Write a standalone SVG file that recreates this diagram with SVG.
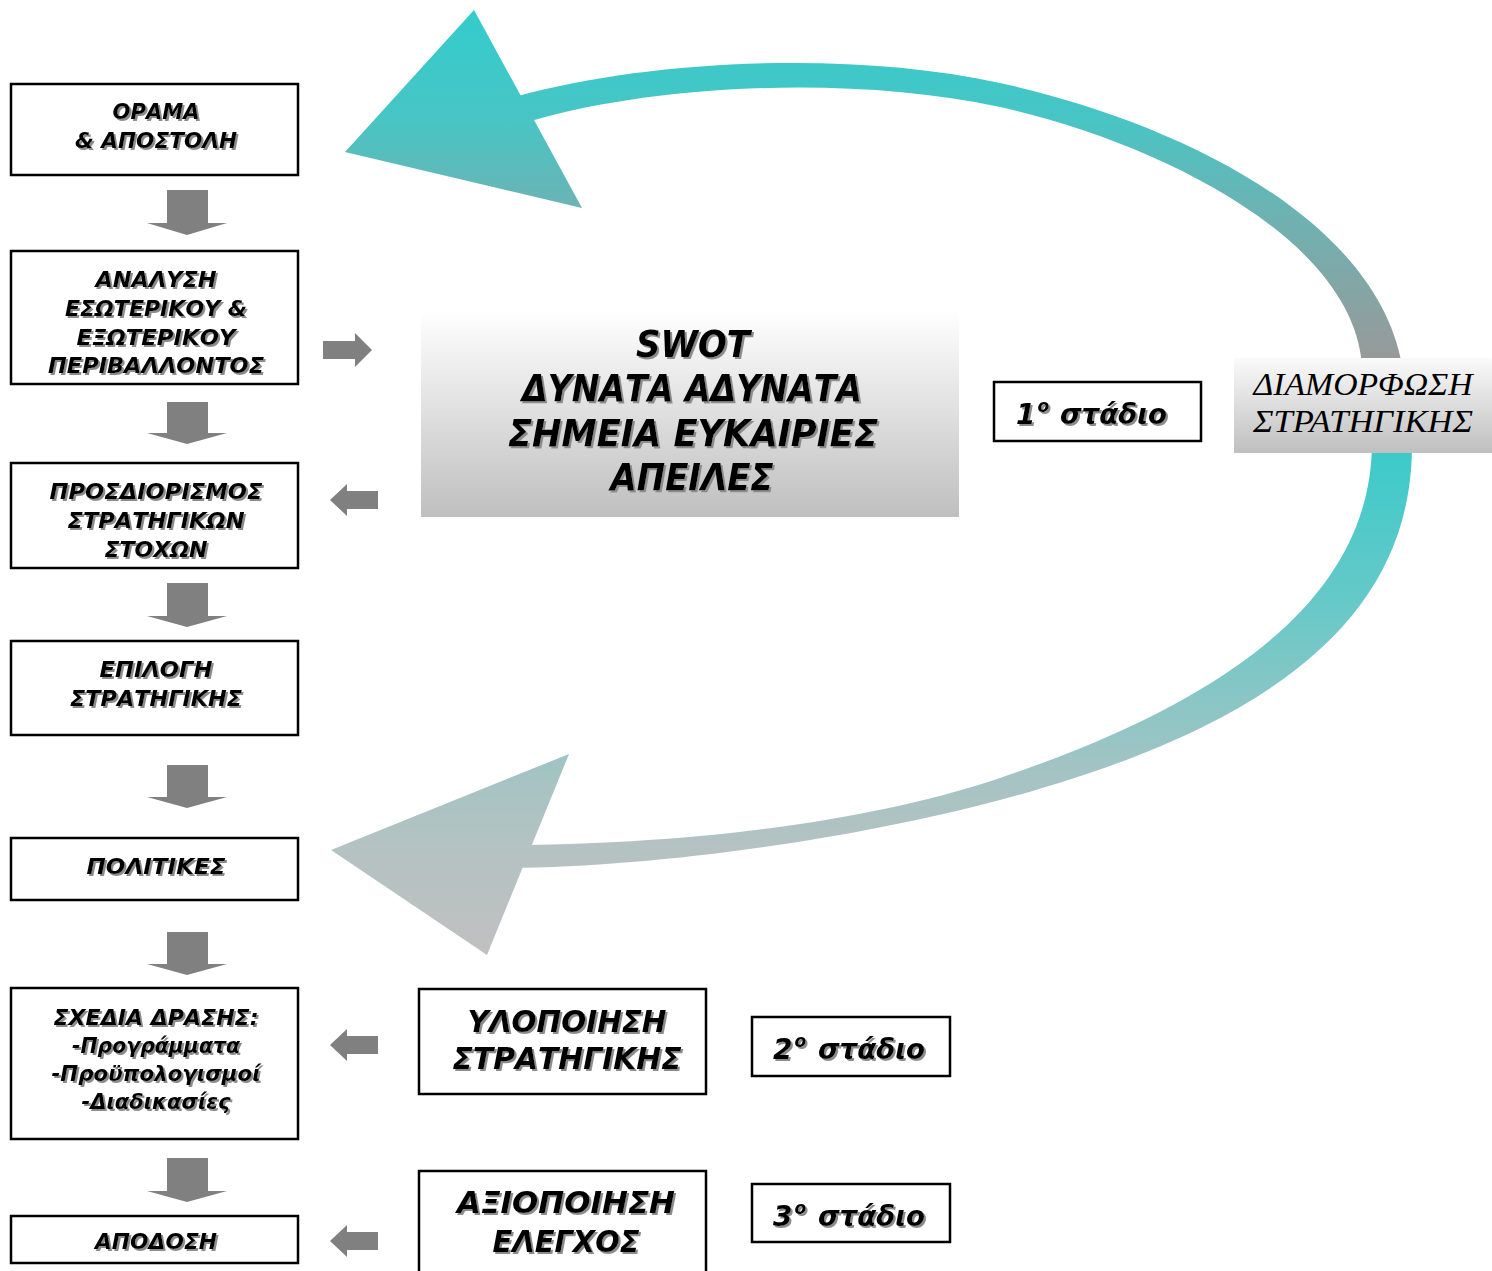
<svg xmlns="http://www.w3.org/2000/svg" width="1492" height="1271" viewBox="0 0 1492 1271">
<defs>
<style>
.box{fill:#fff;stroke:#000;stroke-width:2.5}
.t{font-family:"DejaVu Sans","Liberation Sans",sans-serif;font-weight:bold;font-style:italic;fill:#000;text-anchor:middle}
.s22{font-size:22px}
.s30{font-size:30px}
.s38{font-size:38px}
.st{font-family:"DejaVu Sans","Liberation Sans",sans-serif;font-weight:bold;font-style:italic;font-size:28px;fill:#000}
.serif{font-family:"Liberation Serif","DejaVu Serif",serif;font-style:italic;font-size:32px;fill:#000;text-anchor:middle}
.ga{fill:#808080}
</style>
<filter id="sh" x="-10%" y="-30%" width="125%" height="170%">
<feGaussianBlur in="SourceAlpha" stdDeviation="0.7"/>
<feOffset dx="2" dy="2" result="o"/>
<feFlood flood-color="#8c8c8c"/>
<feComposite in2="o" operator="in" result="s"/>
<feMerge><feMergeNode in="s"/><feMergeNode in="SourceGraphic"/></feMerge>
</filter>
<linearGradient id="gUp" gradientUnits="userSpaceOnUse" x1="0" y1="10" x2="0" y2="360">
<stop offset="0" stop-color="#33cccc"/>
<stop offset="0.3" stop-color="#47c5c5"/>
<stop offset="0.57" stop-color="#6cb3b3"/>
<stop offset="1" stop-color="#999999"/>
</linearGradient>
<linearGradient id="gLo" gradientUnits="userSpaceOnUse" x1="0" y1="450" x2="0" y2="955">
<stop offset="0" stop-color="#3ccaca"/>
<stop offset="0.3" stop-color="#66c9c8"/>
<stop offset="0.65" stop-color="#a6c3c3"/>
<stop offset="0.8" stop-color="#b5c2c2"/>
<stop offset="1" stop-color="#c0c0c0"/>
</linearGradient>
<linearGradient id="gBox" x1="0" y1="0" x2="0" y2="1">
<stop offset="0" stop-color="#ffffff"/>
<stop offset="1" stop-color="#bfbfbf"/>
</linearGradient>
<linearGradient id="gBox2" x1="0" y1="0" x2="0" y2="1">
<stop offset="0" stop-color="#fafafa"/>
<stop offset="1" stop-color="#bfbfbf"/>
</linearGradient>
</defs>

<g id="connectors">
<path d="M480,108 L518,96 C650,60 850,50 1000,83 C1170,120 1375,215 1402,365 L1362,365 C1352,235 1150,140 1000,107 C850,75 660,85 538,119 L490,132 Z" fill="url(#gUp)"/>
<polygon points="474,10 345,152 582,208" fill="url(#gUp)"/>
<path d="M1412,445 C1412,600 1300,720 1000,800 C850,840 650,868 500,868 L500,845 C650,845 850,829 1000,778 C1260,690 1370,580 1372,445 Z" fill="url(#gLo)"/>
<polygon points="569,754 331,850 487,955" fill="url(#gLo)"/>
<polygon class="ga" points="167,190 208,190 208,223 227,223 187,235 147,223 167,223"/>
<polygon class="ga" points="167,402 208,402 208,433 227,433 187,444 147,433 167,433"/>
<polygon class="ga" points="167,583 208,583 208,616 227,616 187,627 147,616 167,616"/>
<polygon class="ga" points="167,765 208,765 208,797 227,797 187,808 147,797 167,797"/>
<polygon class="ga" points="167,932 208,932 208,964 227,964 187,975 147,964 167,964"/>
<polygon class="ga" points="167,1158 208,1158 208,1191 227,1191 187,1202 147,1191 167,1191"/>
<polygon class="ga" points="323,341 355,341 355,333 372,350 355,367 355,359 323,359"/>
<polygon class="ga" points="378,491 347,491 347,484 330,500 347,516 347,509 378,509"/>
<polygon class="ga" points="378,1036 347,1036 347,1029 330,1045 347,1061 347,1054 378,1054"/>
<polygon class="ga" points="378,1232 347,1232 347,1225 330,1241 347,1257 347,1250 378,1250"/>
</g>

<g id="n-orama">
<rect class="box" x="11" y="84" width="287" height="91"/>
<g filter="url(#sh)"><text class="t s22" x="156" y="119" textLength="87" lengthAdjust="spacingAndGlyphs">ΟΡΑΜΑ</text>
<text class="t s22" x="156" y="148" textLength="162" lengthAdjust="spacingAndGlyphs">&amp; ΑΠΟΣΤΟΛΗ</text></g>
</g>
<g id="n-analysi">
<rect class="box" x="11" y="251" width="287" height="133"/>
<g filter="url(#sh)"><text class="t s22" x="156" y="287" textLength="121" lengthAdjust="spacingAndGlyphs">ΑΝΑΛΥΣΗ</text>
<text class="t s22" x="156" y="316" textLength="182" lengthAdjust="spacingAndGlyphs">ΕΣΩΤΕΡΙΚΟΥ &amp;</text>
<text class="t s22" x="156" y="345" textLength="159" lengthAdjust="spacingAndGlyphs">ΕΞΩΤΕΡΙΚΟΥ</text>
<text class="t s22" x="156" y="373" textLength="216" lengthAdjust="spacingAndGlyphs">ΠΕΡΙΒΑΛΛΟΝΤΟΣ</text></g>
</g>
<g id="n-stoxoi">
<rect class="box" x="11" y="463" width="287" height="105"/>
<g filter="url(#sh)"><text class="t s22" x="156" y="499" textLength="213" lengthAdjust="spacingAndGlyphs">ΠΡΟΣΔΙΟΡΙΣΜΟΣ</text>
<text class="t s22" x="156" y="528" textLength="177" lengthAdjust="spacingAndGlyphs">ΣΤΡΑΤΗΓΙΚΩΝ</text>
<text class="t s22" x="156" y="557" textLength="103" lengthAdjust="spacingAndGlyphs">ΣΤΟΧΩΝ</text></g>
</g>
<g id="n-epilogi">
<rect class="box" x="11" y="641" width="287" height="94"/>
<g filter="url(#sh)"><text class="t s22" x="156" y="677" textLength="113" lengthAdjust="spacingAndGlyphs">ΕΠΙΛΟΓΗ</text>
<text class="t s22" x="156" y="706" textLength="172" lengthAdjust="spacingAndGlyphs">ΣΤΡΑΤΗΓΙΚΗΣ</text></g>
</g>
<g id="n-politikes">
<rect class="box" x="11" y="838" width="287" height="62"/>
<g filter="url(#sh)"><text class="t s22" x="156" y="874" textLength="139" lengthAdjust="spacingAndGlyphs">ΠΟΛΙΤΙΚΕΣ</text></g>
</g>
<g id="n-sxedia">
<rect class="box" x="11" y="988" width="287" height="151"/>
<g filter="url(#sh)"><text class="t s22" x="156" y="1025" textLength="205" lengthAdjust="spacingAndGlyphs">ΣΧΕΔΙΑ ΔΡΑΣΗΣ:</text>
<text class="t s22" x="156" y="1053" textLength="168" lengthAdjust="spacingAndGlyphs">-Προγράμματα</text>
<text class="t s22" x="156" y="1081" textLength="209" lengthAdjust="spacingAndGlyphs">-Προϋπολογισμοί</text>
<text class="t s22" x="156" y="1109" textLength="149" lengthAdjust="spacingAndGlyphs">-Διαδικασίες</text></g>
</g>
<g id="n-apodosi">
<rect class="box" x="11" y="1216" width="287" height="47"/>
<g filter="url(#sh)"><text class="t s22" x="156" y="1249" textLength="122" lengthAdjust="spacingAndGlyphs">ΑΠΟΔΟΣΗ</text></g>
</g>

<g id="n-swot">
<rect x="421" y="310" width="538" height="207" fill="url(#gBox)"/>
<g filter="url(#sh)"><text class="t s38" x="693" y="357" textLength="114" lengthAdjust="spacingAndGlyphs">SWOT</text>
<text class="t s38" x="692" y="401" textLength="340" lengthAdjust="spacingAndGlyphs">ΔΥΝΑΤΑ ΑΔΥΝΑΤΑ</text>
<text class="t s38" x="693" y="446" textLength="370" lengthAdjust="spacingAndGlyphs">ΣΗΜΕΙΑ ΕΥΚΑΙΡΙΕΣ</text>
<text class="t s38" x="692" y="490" textLength="163" lengthAdjust="spacingAndGlyphs">ΑΠΕΙΛΕΣ</text></g>
</g>

<g id="n-stadio1">
<rect class="box" x="994" y="382" width="207" height="59"/>
<g filter="url(#sh)"><text class="st" x="1016" y="424">1<tspan dx="2" dy="-12" font-size="17">ο</tspan><tspan x="1060" dy="12" textLength="107" lengthAdjust="spacingAndGlyphs">στάδιο</tspan></text></g>
</g>

<g id="n-diamorfosi">
<rect x="1234" y="358" width="258" height="95" fill="url(#gBox2)"/>
<text class="serif" x="1363" y="395" textLength="219" lengthAdjust="spacingAndGlyphs">ΔΙΑΜΟΡΦΩΣΗ</text>
<text class="serif" x="1363" y="432" textLength="220" lengthAdjust="spacingAndGlyphs">ΣΤΡΑΤΗΓΙΚΗΣ</text>
</g>

<g id="n-ylopoiisi">
<rect class="box" x="419" y="989" width="287" height="105"/>
<g filter="url(#sh)"><text class="t s30" x="567" y="1032" textLength="199" lengthAdjust="spacingAndGlyphs">ΥΛΟΠΟΙΗΣΗ</text>
<text class="t s30" x="567" y="1069" textLength="229" lengthAdjust="spacingAndGlyphs">ΣΤΡΑΤΗΓΙΚΗΣ</text></g>
</g>
<g id="n-stadio2">
<rect class="box" x="752" y="1017" width="198" height="59"/>
<g filter="url(#sh)"><text class="st" x="773" y="1059">2<tspan dx="2" dy="-12" font-size="17">ο</tspan><tspan x="818" dy="12" textLength="107" lengthAdjust="spacingAndGlyphs">στάδιο</tspan></text></g>
</g>
<g id="n-axiopoiisi">
<rect class="box" x="419" y="1171" width="287" height="120"/>
<g filter="url(#sh)"><text class="t s30" x="566" y="1213" textLength="218" lengthAdjust="spacingAndGlyphs">ΑΞΙΟΠΟΙΗΣΗ</text>
<text class="t s30" x="566" y="1252" textLength="147" lengthAdjust="spacingAndGlyphs">ΕΛΕΓΧΟΣ</text></g>
</g>
<g id="n-stadio3">
<rect class="box" x="752" y="1184" width="198" height="58"/>
<g filter="url(#sh)"><text class="st" x="773" y="1226">3<tspan dx="2" dy="-12" font-size="17">ο</tspan><tspan x="818" dy="12" textLength="107" lengthAdjust="spacingAndGlyphs">στάδιο</tspan></text></g>
</g>
</svg>
